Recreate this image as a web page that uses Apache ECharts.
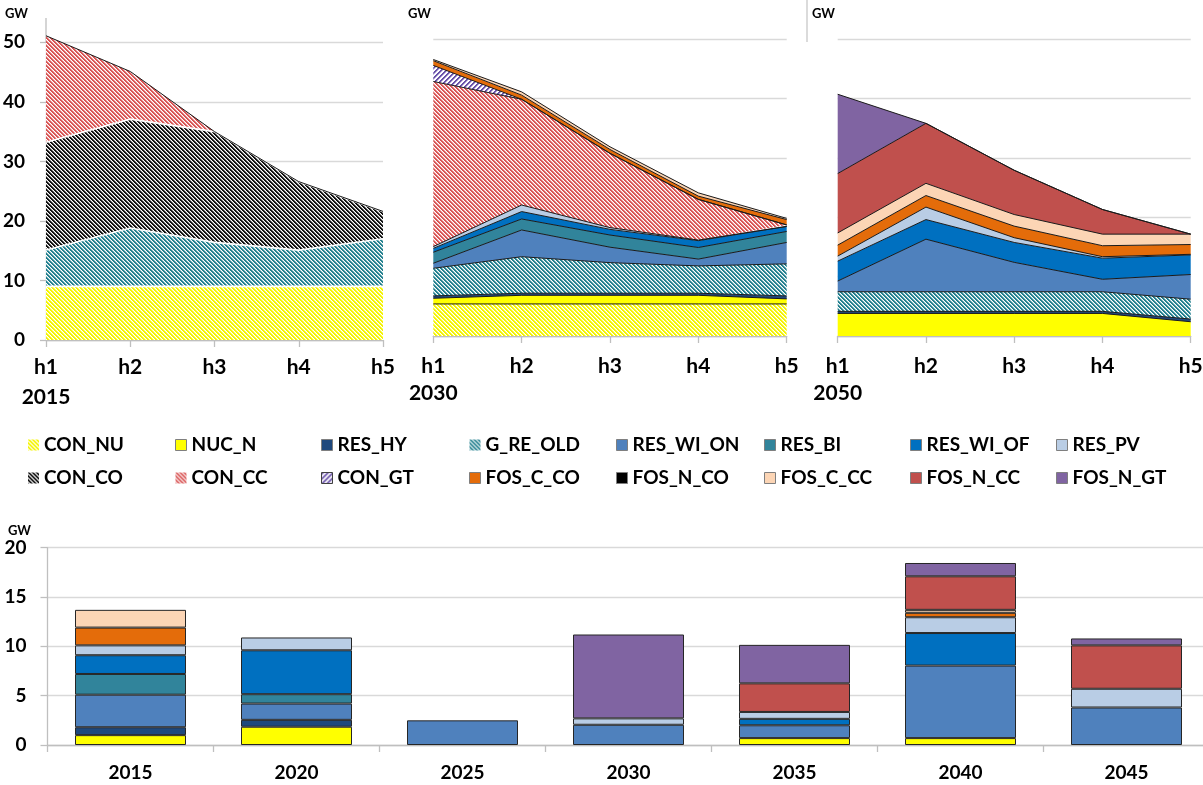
<!DOCTYPE html>
<html><head><meta charset="utf-8">
<script src="https://cdn.jsdelivr.net/npm/echarts@6.0.0/dist/echarts.min.js"></script>
<style>html,body{margin:0;padding:0;background:#fff}#c{width:1203px;height:785px}</style>
</head><body><div id="c"></div>
<script>
// ---------------- DATA ----------------
const hours = ['h1', 'h2', 'h3', 'h4', 'h5'];
const panelYears = ['2015', '2030', '2050'];
const barYears = ['2015', '2020', '2025', '2030', '2035', '2040', '2045'];
const legendRow1 = ['CON_NU', 'NUC_N', 'RES_HY', 'G_RE_OLD', 'RES_WI_ON', 'RES_BI', 'RES_WI_OF', 'RES_PV'];
const legendRow2 = ['CON_CO', 'CON_CC', 'CON_GT', 'FOS_C_CO', 'FOS_N_CO', 'FOS_C_CC', 'FOS_N_CC', 'FOS_N_GT'];

const dispatch2015 = [
  ['CON_NU',   [9.0, 9.0, 9.0, 9.0, 9.0]],
  ['G_RE_OLD', [6.1, 9.8, 7.4, 6.1, 8.0]],
  ['CON_CO',   [18.1, 18.3, 18.6, 11.5, 4.6]],
  ['CON_CC',   [17.9, 8.0, 0, 0, 0]]
];
const dispatch2030 = [
  ['CON_NU',    [5.4, 5.4, 5.4, 5.4, 5.4]],
  ['NUC_N',     [0.95, 1.45, 1.45, 1.45, 0.85]],
  ['RES_HY',    [0.4, 0.35, 0.35, 0.35, 0.5]],
  ['G_RE_OLD',  [4.65, 6.15, 5.15, 4.6, 5.4]],
  ['RES_WI_ON', [0.85, 4.5, 2.6, 1.15, 3.6]],
  ['RES_BI',    [1.85, 1.85, 2.05, 1.95, 1.85]],
  ['RES_WI_OF', [0.65, 1.25, 0.95, 1.15, 0.85]],
  ['RES_PV',    [0.3, 1.1, 0.3, 0.1, 0]],
  ['CON_CC',    [27.8, 17.8, 12.5, 6.85, 0.25]],
  ['CON_GT',    [2.7, 0, 0, 0, 0]],
  ['FOS_C_CO',  [0.8, 0.7, 0.65, 0.55, 0.9]],
  ['FOS_C_CC',  [0.2, 0.55, 0.45, 0.55, 0.2]]
];
const dispatch2050 = [
  ['NUC_N',     [3.8, 3.8, 3.8, 3.8, 2.4]],
  ['RES_HY',    [0.35, 0.35, 0.35, 0.35, 0.45]],
  ['G_RE_OLD',  [3.3, 3.3, 3.3, 3.3, 3.35]],
  ['RES_WI_ON', [1.8, 8.85, 4.95, 2.1, 4.15]],
  ['RES_WI_OF', [3.35, 3.3, 3.35, 3.55, 3.3]],
  ['RES_PV',    [0.85, 2.1, 0.8, 0.25, 0.1]],
  ['FOS_C_CO',  [1.85, 1.95, 1.95, 1.85, 1.65]],
  ['FOS_C_CC',  [2.05, 2.05, 1.95, 1.95, 1.75]],
  ['FOS_N_CC',  [10.0, 10.1, 7.45, 4.15, 0]],
  ['FOS_N_GT',  [13.35, 0, 0, 0, 0]]
];
const newCapacity = [
  ['NUC_N',     [1.0, 1.85, 0, 0, 0.7, 0.7, 0]],
  ['RES_HY',    [0.8, 0.7, 0, 0, 0, 0, 0]],
  ['RES_WI_ON', [3.3, 1.65, 2.5, 2.05, 1.3, 7.35, 3.8]],
  ['RES_BI',    [2.1, 0.95, 0, 0, 0, 0, 0]],
  ['RES_WI_OF', [1.9, 4.45, 0, 0, 0.65, 3.3, 0]],
  ['RES_PV',    [1.0, 1.3, 0, 0.65, 0.7, 1.6, 1.9]],
  ['FOS_C_CO',  [1.8, 0, 0, 0, 0, 0.45, 0]],
  ['FOS_C_CC',  [1.8, 0, 0, 0, 0, 0.3, 0]],
  ['FOS_N_CC',  [0, 0, 0, 0, 2.9, 3.4, 4.4]],
  ['FOS_N_GT',  [0, 0, 0, 8.5, 3.9, 1.35, 0.7]]
];

// ---------------- STYLE ----------------
const FONT = 'Lato';
const STYLE = {
  CON_NU:    { hatch: ['#F5F500', '\\', 4, 2] },
  NUC_N:     { color: '#FFFF00' },
  RES_HY:    { color: '#1F497D' },
  G_RE_OLD:  { hatch: ['#23808F', '\\', 4, 2] },
  RES_WI_ON: { color: '#4F81BD' },
  RES_BI:    { color: '#31849B' },
  RES_WI_OF: { color: '#0070C0' },
  RES_PV:    { color: '#B9CDE5' },
  CON_CO:    { hatch: ['#111111', '\\', 4, 2] },
  CON_CC:    { hatch: ['#D95555', '\\', 4, 2] },
  CON_GT:    { hatch: ['#6A52AA', '/', 5, 2], border: true },
  FOS_C_CO:  { color: '#E46C0A' },
  FOS_N_CO:  { color: '#000000' },
  FOS_C_CC:  { color: '#FCD5B5' },
  FOS_N_CC:  { color: '#C0504D' },
  FOS_N_GT:  { color: '#8064A2' }
};
// pixel diagonal stripe pattern (period p, full stripe width w, plus one half-tone pixel)
function makeHatch(color, dir, p, w) {
  const c = document.createElement('canvas');
  c.width = p; c.height = p;
  const ctx = c.getContext('2d');
  ctx.fillStyle = '#ffffff'; ctx.fillRect(0, 0, p, p);
  for (let y = 0; y < p; y++) {
    for (let x = 0; x < p; x++) {
      const d = dir === '\\' ? ((x - y) % p + p) % p : (x + y) % p;
      if (d < w) { ctx.globalAlpha = 1; ctx.fillStyle = color; ctx.fillRect(x, y, 1, 1); }
      else if (d === w) { ctx.globalAlpha = 0.45; ctx.fillStyle = color; ctx.fillRect(x, y, 1, 1); }
    }
  }
  ctx.globalAlpha = 1;
  return { image: c, repeat: 'repeat' };
}
const FILL = {};
Object.keys(STYLE).forEach(n => {
  const s = STYLE[n];
  FILL[n] = s.hatch ? makeHatch.apply(null, s.hatch) : s.color;
});
const bordered = n => !!(STYLE[n].color || STYLE[n].border);
const allNames = legendRow1.concat(legendRow2);

// ---------------- LAYOUT ----------------
const grids = [
  { left: 46, top: 42.3, width: 337, height: 297.7 },
  { left: 433.3, top: 39, width: 353.4, height: 297 },
  { left: 837.7, top: 39, width: 353, height: 297 },
  { left: 47.5, top: 547.7, width: 1162, height: 197.3 }
].map(g => Object.assign({ outerBoundsMode: 'none', containLabel: false }, g));

const panels = [dispatch2015, dispatch2030, dispatch2050];
const gridCol = '#D9D9D9', axisCol = '#BFBFBF';

const xAxes = panels.map((p, gi) => ({
  type: 'category', gridIndex: gi, data: hours, boundaryGap: false,
  axisLine: { show: true, lineStyle: { color: axisCol, width: 1.3 } },
  axisTick: { show: true, length: 7, lineStyle: { color: axisCol, width: 1.3 } },
  axisLabel: {
    interval: 0, color: '#000', fontFamily: FONT, fontWeight: 'bold', fontSize: 21,
    margin: gi === 0 ? 12 : 17, lineHeight: gi === 0 ? 30 : 27,
    formatter: (v, i) => i === 0 ? v + '\n' + panelYears[gi] : v
  }
}));
xAxes.push({
  type: 'category', gridIndex: 3, data: barYears,
  axisLine: { show: true, lineStyle: { color: axisCol, width: 1.3 } },
  axisTick: { show: true, length: 7, interval: 0, lineStyle: { color: axisCol, width: 1.3 } },
  axisLabel: { interval: 0, color: '#000', fontFamily: FONT, fontWeight: 'bold', fontSize: 19, margin: 18 }
});
const yAxes = panels.map((p, gi) => ({
  type: 'value', gridIndex: gi, min: 0, max: 50, interval: 10,
  splitLine: { show: true, lineStyle: { color: gridCol, width: 1.3 } },
  axisLine: { show: gi === 0, lineStyle: { color: axisCol, width: 1.3 } },
  axisTick: { show: gi === 0, length: 6, lineStyle: { color: axisCol, width: 1.3 } },
  axisLabel: { show: gi === 0, color: '#000', fontFamily: FONT, fontWeight: 'bold', fontSize: 19, margin: 21 }
}));
yAxes.push({
  type: 'value', gridIndex: 3, min: 0, max: 20, interval: 5,
  splitLine: { show: true, lineStyle: { color: gridCol, width: 1.3 } },
  axisLine: { show: true, lineStyle: { color: axisCol, width: 1.3 } },
  axisTick: { show: true, length: 7, lineStyle: { color: axisCol, width: 1.3 } },
  axisLabel: { color: '#000', fontFamily: FONT, fontWeight: 'bold', fontSize: 19, margin: 21 }
});

// ---------------- SERIES ----------------
const series = [];
// bars first (legend icon source)
allNames.forEach(name => {
  const row = newCapacity.find(r => r[0] === name);
  series.push({
    type: 'bar', name, xAxisIndex: 3, yAxisIndex: 3, stack: 'bars', barWidth: 111,
    data: row ? row[1].map(v => v > 0 ? v : '-') : barYears.map(() => '-'),
    itemStyle: { color: FILL[name], borderColor: '#262626', borderWidth: 1 },
    emphasis: { disabled: true }
  });
});
// stacked areas
panels.forEach((list, gi) => {
  list.forEach(([name, vals]) => {
    series.push({
      type: 'line', name, xAxisIndex: gi, yAxisIndex: gi, stack: 'A' + gi, data: vals,
      symbol: 'none', showSymbol: false, z: 2, clip: false,
      areaStyle: { color: FILL[name], opacity: 1 },
      lineStyle: { width: 0, opacity: 0 },
      itemStyle: { color: STYLE[name].color || STYLE[name].hatch[0] },
      emphasis: { disabled: true }
    });
  });
  // outlines on top
  list.forEach(([name, vals], k) => {
    const next = list[k + 1];
    let lc, lw;
    if (bordered(name) || !next || bordered(next[0])) { lc = '#1a1a1a'; lw = 1; }
    else { lc = '#ffffff'; lw = 1.6; }
    series.push({
      type: 'line', name, xAxisIndex: gi, yAxisIndex: gi, stack: 'L' + gi, data: vals,
      symbol: 'none', showSymbol: false, z: 3, clip: false,
      lineStyle: { color: lc, width: lw },
      itemStyle: { color: lc },
      emphasis: { disabled: true }
    });
  });
});

// ---------------- LEGEND ----------------
const legendLeft = [28, 175, 321, 469, 616, 764, 910, 1056];
const legItem = n => ({
  name: n, icon: 'rect',
  itemStyle: {
    color: FILL[n],
    borderColor: bordered(n) ? (STYLE[n].border ? '#404040' : '#7f7f7f') : 'rgba(0,0,0,0)',
    borderWidth: bordered(n) ? 1 : 0
  }
});
const legends = legendRow1.map((n1, i) => ({
  orient: 'vertical', left: legendLeft[i], top: 434, itemWidth: 11, itemHeight: 11, itemGap: 11,
  selectedMode: false, padding: 0,
  textStyle: { color: '#000', fontFamily: FONT, fontWeight: 'bold', fontSize: 19, lineHeight: 22 },
  data: [legItem(n1), legItem(legendRow2[i])]
}));

const gwText = (x, y) => ({ type: 'text', left: x, top: y, style: { text: 'GW', font: 'bold 13px Lato', fill: '#000' } });

const option = {
  animation: false,
  backgroundColor: '#ffffff',
  grid: grids, xAxis: xAxes, yAxis: yAxes, series, legend: legends,
  graphic: [
    gwText(5, 7), gwText(408, 7), gwText(812, 7), gwText(8, 524),
    { type: 'line', shape: { x1: 46, y1: 18, x2: 46, y2: 42.3 }, style: { stroke: axisCol, lineWidth: 1.3 } },
    { type: 'line', shape: { x1: 807, y1: 0, x2: 807, y2: 42 }, style: { stroke: '#C8C8C8', lineWidth: 1.3 } }
  ]
};
const chart = echarts.init(document.getElementById('c'), null, { renderer: 'canvas' });
chart.setOption(option);
</script></body></html>
